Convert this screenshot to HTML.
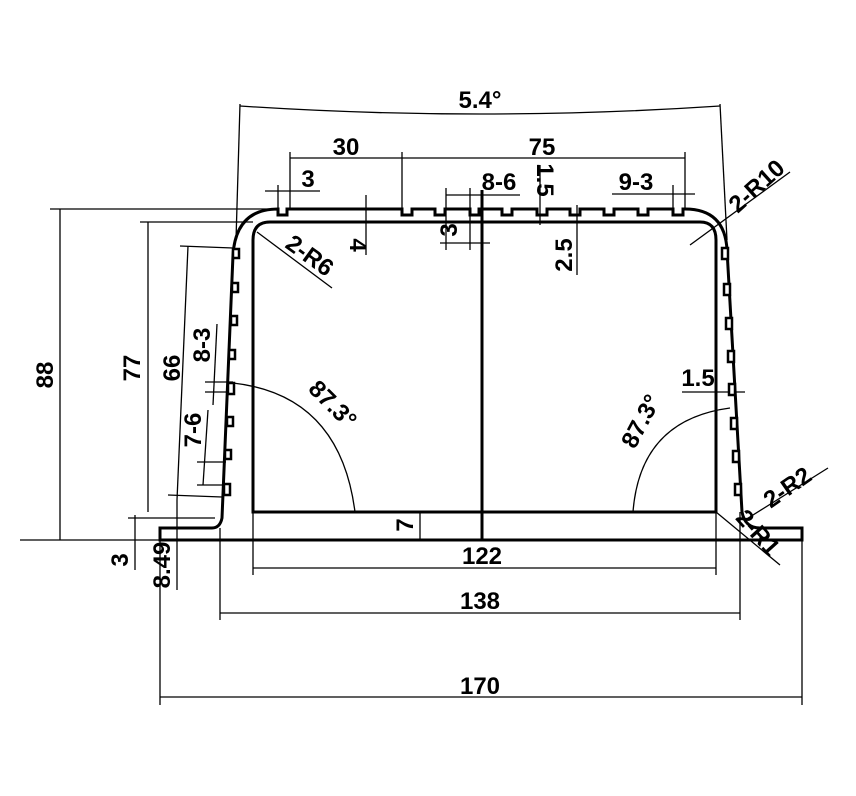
<!DOCTYPE html>
<html><head><meta charset="utf-8"><style>
html,body{margin:0;padding:0;background:#fff}
svg{display:block}
text{font-family:"Liberation Sans",sans-serif;font-weight:bold;font-size:24px;fill:#000}
</style></head><body>
<svg width="856" height="796" viewBox="0 0 856 796" xmlns="http://www.w3.org/2000/svg">
<g fill="none" stroke="#000" stroke-width="1.3">
<line x1="240" y1="104" x2="236" y2="240"/><line x1="720" y1="104" x2="727" y2="240"/>
<path d="M240 106 Q480 122 720 106"/>
<line x1="290" y1="152" x2="290" y2="209"/><line x1="402" y1="152" x2="402" y2="209"/><line x1="685" y1="152" x2="685" y2="209"/>
<line x1="290" y1="158" x2="685" y2="158"/>
<line x1="265" y1="191" x2="320" y2="191"/><line x1="278" y1="185" x2="278" y2="209"/>
<line x1="446" y1="195" x2="520" y2="195"/><line x1="446" y1="188" x2="446" y2="250"/><line x1="470" y1="188" x2="470" y2="250"/>
<line x1="440" y1="243" x2="490" y2="243"/>
<line x1="540" y1="165" x2="540" y2="225"/>
<line x1="612" y1="194" x2="695" y2="194"/><line x1="673" y1="185" x2="673" y2="209"/>
<line x1="366" y1="195" x2="366" y2="255"/>
<line x1="577" y1="205" x2="577" y2="275"/>
<line x1="257" y1="232" x2="332" y2="288"/>
<line x1="690" y1="245" x2="790" y2="172"/>
<line x1="50" y1="209" x2="270" y2="209"/><line x1="60" y1="209" x2="60" y2="540"/>
<line x1="140" y1="222" x2="253" y2="222"/><line x1="148" y1="222" x2="148" y2="512"/>
<line x1="180" y1="246" x2="233" y2="248"/><line x1="188" y1="246" x2="177" y2="500"/><line x1="168" y1="495" x2="222" y2="497"/>
<line x1="217" y1="324" x2="213" y2="405"/><line x1="205" y1="382" x2="233" y2="382"/><line x1="205" y1="392" x2="233" y2="392"/>
<line x1="208" y1="410" x2="203" y2="485"/><line x1="197" y1="462" x2="226" y2="462"/><line x1="197" y1="485" x2="226" y2="485"/>
<path d="M233 383 Q340 395 355 512"/>
<path d="M730 408 Q640 420 633 512"/>
<line x1="682" y1="392" x2="745" y2="392"/>
<line x1="420" y1="512" x2="420" y2="540"/>
<line x1="253" y1="512" x2="253" y2="575"/><line x1="716" y1="512" x2="716" y2="575"/>
<line x1="253" y1="568" x2="716" y2="568"/>
<line x1="220" y1="528" x2="220" y2="620"/><line x1="740" y1="512" x2="740" y2="620"/>
<line x1="220" y1="613" x2="740" y2="613"/>
<line x1="160" y1="528" x2="160" y2="705"/><line x1="802" y1="540" x2="802" y2="705"/>
<line x1="160" y1="697" x2="802" y2="697"/>
<line x1="20" y1="540" x2="160" y2="540"/>
<line x1="128" y1="518" x2="215" y2="518"/><line x1="135" y1="515" x2="135" y2="570"/>
<line x1="177" y1="500" x2="177" y2="590"/>
<line x1="716" y1="512" x2="780" y2="565"/>
<line x1="745" y1="520" x2="828" y2="468"/>
</g>
<g fill="none" stroke="#000" stroke-width="3">
<path d="M160 528 L212 528 Q220 528 222 518 L233 255 Q236 209 278 209 L278 215 L287 215 L287 209 L402 209 L402 215 L412 215 L412 209 L435 209 L435 215 L445 215 L445 209 L470 209 L470 215 L479 215 L479 209 L502 209 L502 215 L512 215 L512 209 L537 209 L537 215 L547 215 L547 209 L570 209 L570 215 L580 215 L580 209 L604 209 L604 215 L614 215 L614 209 L638 209 L638 215 L648 215 L648 209 L673 209 L673 215 L683 215 L683 209 L685 209 Q725 209 727 250 L742 512 Q745 528 760 528 L802 528 L802 540 L160 540 Z"/>
<path d="M253 512 L253 240 Q253 222 270 222 L700 222 Q716 222 716 240 L716 512 Z"/>
<line x1="482" y1="190" x2="482" y2="540"/>
</g>
<g fill="#fff" stroke="#000" stroke-width="2.5">
<rect x="233" y="249" width="6" height="9"/><rect x="232" y="283" width="6" height="9"/><rect x="231" y="316" width="6" height="9"/>
<rect x="229" y="350" width="6" height="9"/><rect x="228" y="383" width="6" height="11"/><rect x="227" y="417" width="6" height="9"/>
<rect x="225" y="450" width="6" height="9"/><rect x="224" y="484" width="6" height="11"/>
<rect x="722" y="248" width="6" height="11"/><rect x="724" y="284" width="6" height="11"/><rect x="726" y="318" width="6" height="11"/>
<rect x="728" y="351" width="6" height="11"/><rect x="729" y="384" width="6" height="11"/><rect x="731" y="418" width="6" height="11"/>
<rect x="733" y="451" width="6" height="11"/><rect x="735" y="484" width="6" height="11"/>
</g>
<g>
<text x="480" y="108" text-anchor="middle">5.4°</text>
<text x="346" y="155" text-anchor="middle">30</text>
<text x="542" y="155" text-anchor="middle">75</text>
<text x="308" y="187" text-anchor="middle">3</text>
<text x="499" y="190" text-anchor="middle">8-6</text>
<text x="636" y="190" text-anchor="middle">9-3</text>
<text transform="translate(537,180) rotate(90)" text-anchor="middle" font-size="18">1.5</text>
<text transform="translate(350,245) rotate(90)" text-anchor="middle">4</text>
<text transform="translate(457,230) rotate(-90)" text-anchor="middle">3</text>
<text transform="translate(572,255) rotate(-90)" text-anchor="middle">2.5</text>
<text transform="translate(305,262) rotate(36)" text-anchor="middle">2-R6</text>
<text transform="translate(762,192) rotate(-42)" text-anchor="middle">2-R10</text>
<text transform="translate(53,375) rotate(-90)" text-anchor="middle">88</text>
<text transform="translate(140,368) rotate(-90)" text-anchor="middle">77</text>
<text transform="translate(180,368) rotate(-90)" text-anchor="middle">66</text>
<text transform="translate(210,345) rotate(-90)" text-anchor="middle">8-3</text>
<text transform="translate(201,430) rotate(-90)" text-anchor="middle">7-6</text>
<text transform="translate(327,410) rotate(45)" text-anchor="middle">87.3°</text>
<text transform="translate(648,425) rotate(-62)" text-anchor="middle">87.3°</text>
<text x="698" y="386" text-anchor="middle">1.5</text>
<text transform="translate(413,525) rotate(-90)" text-anchor="middle">7</text>
<text x="482" y="564" text-anchor="middle">122</text>
<text x="480" y="609" text-anchor="middle">138</text>
<text x="480" y="694" text-anchor="middle">170</text>
<text transform="translate(128,560) rotate(-90)" text-anchor="middle">3</text>
<text transform="translate(170,565) rotate(-90)" text-anchor="middle">8.49</text>
<text transform="translate(792,494) rotate(-35)" text-anchor="middle">2-R2</text>
<text transform="translate(752,538) rotate(48)" text-anchor="middle">2-R1</text>
</g>
</svg>
</body></html>
